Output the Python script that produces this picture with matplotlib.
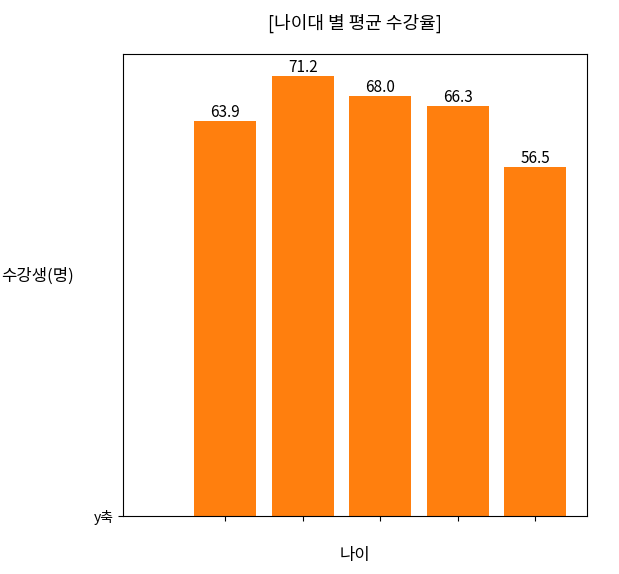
import matplotlib
matplotlib.use("Agg")
import matplotlib.pyplot as plt

plt.rcParams['font.family'] = ['Noto Sans CJK KR', 'DejaVu Sans']

positions = [1, 2, 3, 4, 5]
values = [63.9, 71.2, 68.0, 66.3, 56.5]
labels = ["63.9", "71.2", "68.0", "66.3", "56.5"]

fig = plt.figure(figsize=(6.19, 5.74), dpi=100)
ax = fig.add_axes([0.199, 0.101, 0.749, 0.805])
bars = ax.bar(positions, values, width=0.8, color='#ff7f0e')
for b, l in zip(bars, labels):
    ax.text(b.get_x() + b.get_width() / 2, b.get_height(), l,
            ha='center', va='bottom', fontsize=11)
ax.set_xlim(-0.32, 5.67)
ax.set_ylim(0, 74.76)
ax.set_xticks(positions)
ax.set_xticklabels([''] * 5)
ax.set_yticks([0])
ax.set_yticklabels(['y축'])
ax.set_xlabel('나이', fontsize=12, labelpad=15)
ax.set_ylabel('수강생(명)', fontsize=12, rotation=0, labelpad=40)
ax.set_title('[나이대 별 평균 수강율]', fontsize=13, pad=18)
fig.savefig('out.png', dpi=100)
